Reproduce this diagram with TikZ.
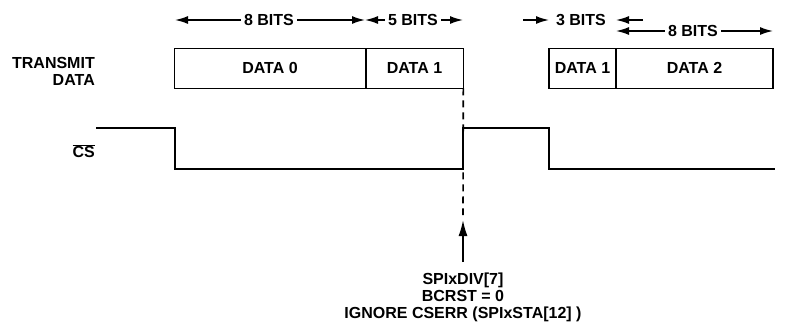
\documentclass[tikz,border=0pt]{standalone}
\usepackage{fontspec}
\setmainfont{Liberation Sans}[BoldFont={Liberation Sans Bold}]
\usetikzlibrary{arrows.meta,positioning}

\tikzset{
    databox/.style = {draw, line width=1.6pt, minimum height=40pt, inner sep=0pt, outer sep=0pt},
    bitarrow/.style = {line width=1.6pt, -{Latex[length=13pt,width=8pt]}},
    wave/.style = {line width=2.8pt}
}

\begin{document}
\begin{tikzpicture}[x = 1pt, y = -1pt, font=\fontsize{16}{17}\selectfont\bfseries]
    \useasboundingbox (0,0) rectangle (786,322);
    % transmit data boxes
    \node[databox, minimum width=191.4pt] (d0) at (270,68.3) {DATA 0};
    \node[databox, minimum width=97.6pt, right = 0pt of d0] (d1) {DATA 1};
    \node[databox, minimum width=67pt] (d1b) at (582.5,68.3) {DATA 1};
    \node[databox, minimum width=157pt, right = 0pt of d1b] (d2) {DATA 2};
    \node[align=right, anchor=east, inner sep=0pt] (tx) at (95,71) {TRANSMIT\\DATA};
    \node[anchor=east, inner sep=0pt] (cs) at (95,151) {$\overline{\mbox{CS}}$};
    % bit counts
    \node (t8a) at (269,20) {8 BITS};
    \node (t5) at (413,20) {5 BITS};
    \node (t3) at (581,20) {3 BITS};
    \node (t8b) at (693,31) {8 BITS};
    \coordinate (a8l) at (175,20);
    \coordinate (a8r) at (365,20);
    \coordinate (a5r) at (463,20);
    \coordinate (a3l) at (523,20);
    \coordinate (a3lt) at (549,20);
    \coordinate (a3r) at (643,20);
    \coordinate (a3rt) at (616,20);
    \coordinate (b8l) at (616,31);
    \coordinate (b8r) at (773,31);
    \draw[bitarrow] (t8a) -- (a8l);
    \draw[bitarrow] (t8a) -- (a8r);
    \draw[bitarrow] (t5) -- (a8r);
    \draw[bitarrow] (t5) -- (a5r);
    \draw[bitarrow] (a3l) -- (a3lt);
    \draw[bitarrow] (a3r) -- (a3rt);
    \draw[bitarrow] (t8b) -- (b8l);
    \draw[bitarrow] (t8b) -- (b8r);
    % chip select
    \draw[wave] (96,128) -- (175,128) -- (175,169) -- (463,169) -- (463,128) -- (549,128) -- (549,169) -- (775,169);
    % marker
    \coordinate (dend) at (463,215);
    \coordinate (tip) at (463,220);
    \node[align=center, anchor=north, inner sep=0pt] (note) at (463,273) {SPIxDIV[7]\\BCRST = 0\\IGNORE CSERR (SPIxSTA[12] )};
    \draw[line width=1.6pt, dash pattern=on 7pt off 5pt] (d1.south east) -- (dend);
    \draw[line width=1.6pt, -{Latex[length=16pt,width=9pt]}] (463,262) -- (tip);
\end{tikzpicture}
\end{document}
